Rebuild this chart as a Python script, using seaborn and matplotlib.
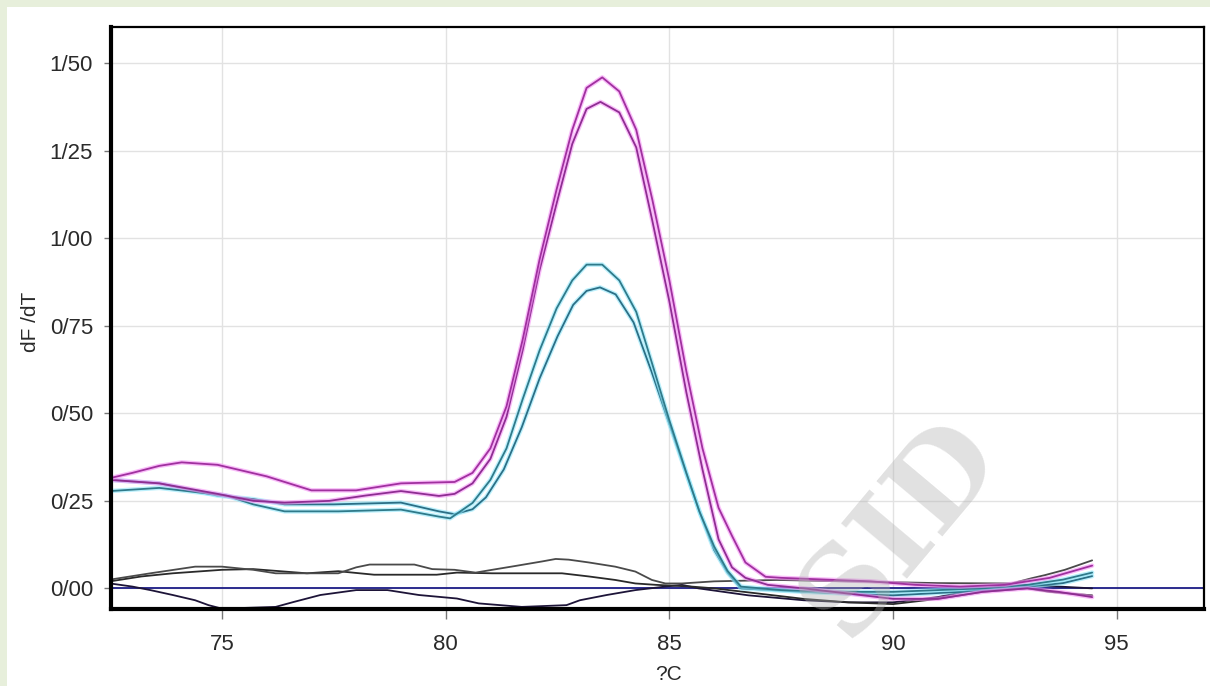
import numpy as np
import pandas as pd
import matplotlib
matplotlib.use("Agg")
import matplotlib.pyplot as plt
import matplotlib.patheffects as pe
from matplotlib.patches import Rectangle
import seaborn as sns

# ---------------- data ----------------
mag_a_x = [72.5, 73.0, 73.6, 74.1, 74.9, 76.0, 77.0, 78.0, 79.0, 80.2, 80.6, 81.0, 81.36, 81.72,
           82.1, 82.48, 82.83, 83.15, 83.5, 83.88, 84.26, 84.62, 85.0, 85.38, 85.74, 86.1, 86.4,
           86.7, 87.15, 87.5, 88.5, 89.5, 90.5, 91.5, 92.5, 93.5, 94.45]
mag_a_y = [0.315, 0.33, 0.35, 0.36, 0.353, 0.32, 0.28, 0.28, 0.30, 0.304, 0.33, 0.40, 0.52, 0.71,
           0.94, 1.14, 1.31, 1.43, 1.46, 1.42, 1.31, 1.11, 0.88, 0.62, 0.40, 0.23, 0.15,
           0.074, 0.033, 0.03, 0.025, 0.02, 0.01, 0.005, 0.01, 0.03, 0.065]

mag_b_x = [72.5, 73.6, 74.9, 75.7, 76.4, 77.4, 78.2, 79.0, 79.85, 80.2, 80.6, 81.0, 81.36, 81.72,
           82.1, 82.48, 82.83, 83.15, 83.46, 83.88, 84.26, 84.62, 85.0, 85.38, 85.74, 86.1, 86.4,
           86.7, 87.2, 88.0, 89.0, 90.0, 91.0, 92.0, 93.0, 93.7, 94.45]
mag_b_y = [0.31, 0.30, 0.27, 0.25, 0.245, 0.25, 0.265, 0.278, 0.264, 0.27, 0.30, 0.37, 0.49, 0.68,
           0.91, 1.10, 1.27, 1.37, 1.39, 1.36, 1.26, 1.05, 0.82, 0.56, 0.34, 0.14, 0.06,
           0.03, 0.01, 0.0, -0.015, -0.03, -0.03, -0.01, 0.0, -0.01, -0.025]

teal_c_x = [72.5, 73.6, 75.1, 75.7, 76.4, 77.6, 79.0, 79.85, 80.1, 80.6, 81.0, 81.36, 81.72, 82.1,
            82.48, 82.83, 83.15, 83.5, 83.88, 84.26, 84.62, 85.0, 85.38, 85.67, 86.0, 86.3, 86.6,
            87.5, 89.0, 90.0, 91.0, 92.0, 93.0, 93.8, 94.45]
teal_c_y = [0.278, 0.287, 0.265, 0.24, 0.22, 0.22, 0.225, 0.205, 0.20, 0.244, 0.31, 0.40, 0.54, 0.68,
            0.80, 0.88, 0.925, 0.925, 0.88, 0.79, 0.64, 0.48, 0.33, 0.22, 0.12, 0.05, 0.005,
            -0.005, -0.01, -0.01, -0.005, 0.0, 0.01, 0.025, 0.045]

teal_d_x = [72.5, 73.6, 74.9, 75.7, 76.4, 77.5, 79.0, 79.85, 80.2, 80.6, 80.9, 81.3, 81.7, 82.1,
            82.5, 82.85, 83.15, 83.45, 83.8, 84.2, 84.6, 85.0, 85.4, 85.7, 86.0, 86.3, 86.6,
            88.0, 90.0, 91.5, 93.0, 93.8, 94.45]
teal_d_y = [0.31, 0.30, 0.265, 0.255, 0.24, 0.24, 0.245, 0.22, 0.212, 0.226, 0.26, 0.34, 0.46, 0.60,
            0.72, 0.81, 0.85, 0.86, 0.84, 0.76, 0.62, 0.47, 0.32, 0.21, 0.11, 0.045, 0.0,
            -0.01, -0.02, -0.01, 0.005, 0.015, 0.035]

neg_e_x = [72.5, 73.4, 74.4, 75.0, 75.7, 76.2, 77.6, 78.0, 78.3, 79.3, 79.7, 80.2, 80.67, 81.04,
           81.56, 82.16, 82.46, 82.75, 83.2, 83.79, 84.24, 84.61, 84.91, 85.28, 86.0, 87.4, 89.0,
           91.0, 92.65, 93.1, 93.4, 93.84, 94.45]
neg_e_y = [0.025, 0.043, 0.062, 0.062, 0.053, 0.043, 0.043, 0.06, 0.068, 0.068, 0.055, 0.053, 0.045,
           0.053, 0.064, 0.077, 0.084, 0.082, 0.074, 0.062, 0.048, 0.024, 0.014, 0.014, 0.02, 0.024,
           0.02, 0.015, 0.014, 0.029, 0.038, 0.053, 0.08]

neg_f_x = [72.5, 73.2, 73.9, 75.0, 75.7, 76.9, 77.6, 78.4, 79.8, 80.25, 81.04, 82.6, 83.2, 83.79,
           84.24, 84.7, 85.5, 86.0, 87.0, 88.0, 89.0, 90.0, 91.0, 92.0, 93.0, 93.5, 94.45]
neg_f_y = [0.02, 0.034, 0.043, 0.053, 0.055, 0.043, 0.049, 0.039, 0.039, 0.045, 0.043, 0.043, 0.034,
           0.024, 0.014, 0.01, 0.005, 0.0, -0.015, -0.03, -0.04, -0.045, -0.03, -0.01, 0.0, -0.01,
           -0.02]

neg_g_x = [72.5, 73.0, 73.4, 73.9, 74.4, 74.7, 75.0, 76.2, 76.6, 77.2, 78.0, 78.7, 79.4, 80.25,
           80.74, 81.7, 82.7, 83.0, 83.6, 84.24, 84.9, 85.28, 85.65, 86.77, 88.0, 89.0, 90.0, 91.0,
           92.0, 93.0, 94.45]
neg_g_y = [0.014, 0.005, -0.005, -0.019, -0.034, -0.048, -0.058, -0.053, -0.039, -0.019, -0.005,
           -0.005, -0.019, -0.029, -0.043, -0.053, -0.048, -0.034, -0.019, -0.005, 0.005, 0.01, 0.0,
           -0.02, -0.034, -0.04, -0.04, -0.025, 0.0, 0.01, 0.0]

y_ticks = [0.0, 0.25, 0.5, 0.75, 1.0, 1.25, 1.5]
y_tick_labels = ["0/00", "0/25", "0/50", "0/75", "1/00", "1/25", "1/50"]
x_ticks = [75, 80, 85, 90, 95]
x_tick_labels = ["75", "80", "85", "90", "95"]

# ---------------- figure ----------------
sns.set_style("white")
plt.rcParams["font.family"] = ["Liberation Sans", "DejaVu Sans"]

W, H = 1210, 686
fig = plt.figure(figsize=(W / 100, H / 100), dpi=100)
fig.patch.set_facecolor("#e7efdb")
fig.patches.append(Rectangle((7 / W, 0), 1 - 7 / W, 1 - 7 / H, transform=fig.transFigure,
                             facecolor="white", edgecolor="none", zorder=-1))

ax = fig.add_axes([111 / W, 1 - 609 / H, (1204 - 111) / W, (609 - 27) / H])
ax.set_facecolor("white")

series = [
    (neg_g_x, neg_g_y, "#1d1438", None),
    (neg_f_x, neg_f_y, "#2a2a2a", None),
    (neg_e_x, neg_e_y, "#4a4a4a", None),
    (teal_d_x, teal_d_y, "#2b6f86", "#8fe6fa"),
    (teal_c_x, teal_c_y, "#2f7a8a", "#8fe6fa"),
    (mag_b_x, mag_b_y, "#8e2d92", "#f590f5"),
    (mag_a_x, mag_a_y, "#a0309f", "#f590f5"),
]
for xs, ys, col, halo in series:
    df = pd.DataFrame({"T": xs, "v": ys})
    sns.lineplot(data=df, x="T", y="v", ax=ax, color=col, lw=1.3, estimator=None, sort=False)
    ln = ax.lines[-1]
    if halo is not None:
        ln.set_path_effects([pe.Stroke(linewidth=3.2, foreground=halo, alpha=0.6), pe.Normal()])

ax.axhline(0, color="#1c1c86", lw=1.3, zorder=1.5)

ax.set_xlim(72.52, 96.95)
ax.set_ylim(-0.059, 1.604)
ax.set_xticks(x_ticks)
ax.set_xticklabels(x_tick_labels)
ax.set_yticks(y_ticks)
ax.set_yticklabels(y_tick_labels)
ax.grid(True, color="#e2e2e2", lw=1.0)
ax.set_axisbelow(True)

ax.tick_params(axis="y", which="major", direction="out", length=5, width=1, color="#777777",
               labelsize=16, labelcolor="#2a2a2a", pad=8, left=True)
ax.tick_params(axis="x", which="major", direction="out", length=7, width=1, color="#777777",
               labelsize=16, labelcolor="#2a2a2a", pad=11, bottom=True)

for side, w in (("left", 3.0), ("bottom", 3.0), ("top", 1.6), ("right", 1.6)):
    ax.spines[side].set_visible(True)
    ax.spines[side].set_color("black")
    ax.spines[side].set_linewidth(w)

ax.set_xlabel("?C", fontsize=15, color="#2a2a2a")
ax.set_ylabel("dF /dT", fontsize=15, color="#2a2a2a")
ax.xaxis.set_label_coords((668 - 111) / (1204 - 111), -(665 - 609) / (609 - 27))
ax.yaxis.set_label_coords(-(111 - 40) / (1204 - 111), (609 - 322) / (609 - 27))

# faint watermark
fig.text(900 / W, 1 - 528 / H, "SID", fontsize=85, family="DejaVu Serif", weight="bold",
         color="#b0b0b0", alpha=0.38, rotation=50, ha="center", va="center", zorder=10)

fig.savefig("out.png", dpi=100, facecolor=fig.get_facecolor())
